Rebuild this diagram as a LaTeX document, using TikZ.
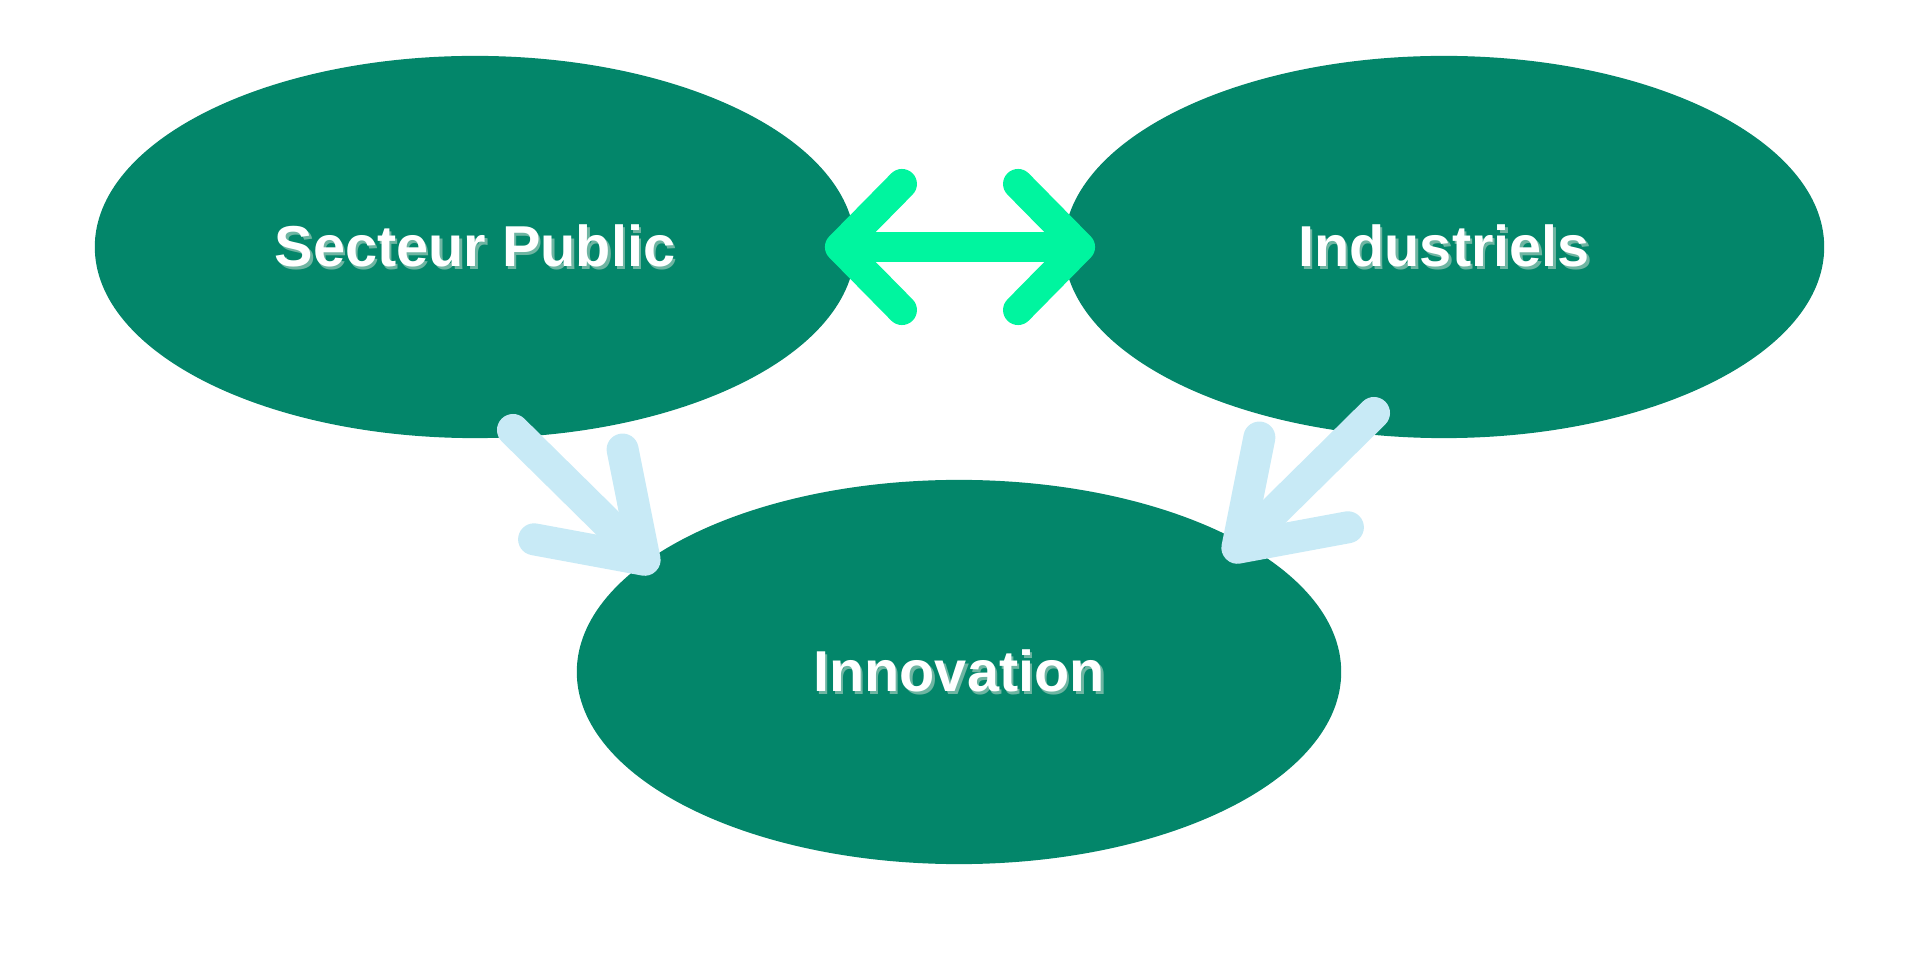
\documentclass[tikz,border=0pt]{standalone}
\usepackage{fontspec}
\setmainfont{Liberation Sans}
\usetikzlibrary{shapes.geometric,arrows.meta}

\definecolor{blobgreen}{HTML}{03866A}
\definecolor{blobshade}{HTML}{6FB5A2}
\definecolor{linkgreen}{HTML}{00F59F}
\definecolor{flowblue}{HTML}{C8EAF6}

% white label with a soft shadow below right
\newcommand{\shadowed}[1]{\makebox[0pt][l]{\hspace{0.7pt}\raisebox{-0.85pt}{\textcolor{blobshade}{#1}}}#1}

\begin{document}
\begin{tikzpicture}[x=0.01cm,y=0.01cm,
blob/.style={ellipse,fill=blobgreen,inner sep=0pt,
minimum width=7.6cm,minimum height=3.82cm,
text=white,font=\fontsize{16.4}{20}\selectfont\bfseries},
link/.style={draw=linkgreen,line width=0.3cm,line cap=round,line join=round,
>={Straight Barb[round,length=0.62cm,width=1.26cm]},<->},
flow/.style={draw=flowblue,line width=0.32cm,line cap=round,line join=round,
-{Straight Barb[round,length=0.93cm,width=1.26cm]}}]
\useasboundingbox (0,0) rectangle (1920,960);

\node[blob] (pub) at (475,713) {\shadowed{Secteur Public}};
\node[blob] (ind) at (1444,713) {\shadowed{Industriels}};
\node[blob,minimum width=7.64cm,minimum height=3.84cm] (inn) at (959,288) {\shadowed{Innovation}};

\coordinate (pubout) at (513,530);
\coordinate (innleft) at (656,389);
\coordinate (indout) at (1374,547);
\coordinate (innright) at (1226,401);

\draw[link] ([xshift=-0.31cm]pub.east) -- ([xshift=0.32cm]ind.west);
\draw[flow] (pubout) -- (innleft);
\draw[flow] (indout) -- (innright);
\end{tikzpicture}
\end{document}
